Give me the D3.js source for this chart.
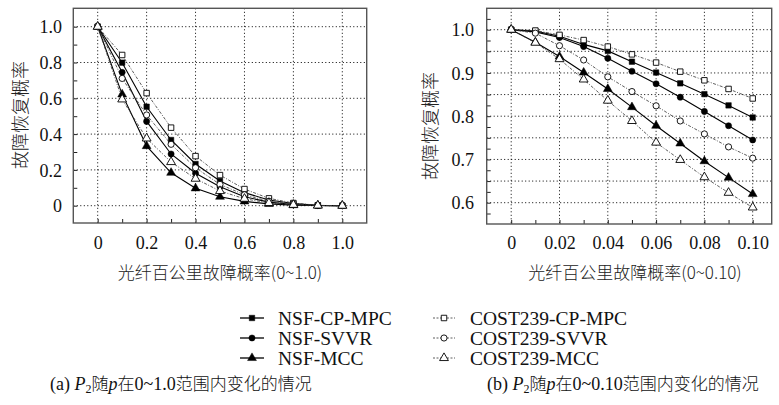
<!DOCTYPE html>
<html><head><meta charset="utf-8">
<script src="https://cdn.jsdelivr.net/npm/d3@7"></script>
<style>
body{margin:0;background:#fff;}
svg{display:block;}
</style></head>
<body>
<svg id="c" width="779" height="405"></svg>
<script>
// ---------- data ----------
const seriesNames = ["NSF-CP-MPC","NSF-SVVR","NSF-MCC","COST239-CP-MPC","COST239-SVVR","COST239-MCC"];
const seriesShape = ["square","circle","triangle","square","circle","triangle"];
const seriesOpen  = [false,false,false,true,true,true];

const xA = [0,0.1,0.2,0.3,0.4,0.5,0.6,0.7,0.8,0.9,1.0];
const aNSF_CP   = [1.0,0.799,0.553,0.367,0.233,0.138,0.073,0.032,0.012,0.002,0];
const aNSF_SV   = [1.0,0.745,0.471,0.289,0.181,0.106,0.050,0.020,0.007,0.001,0];
const aNSF_MCC  = [1.0,0.622,0.333,0.184,0.097,0.050,0.024,0.010,0.003,0.001,0];
const aCOST_CP  = [1.0,0.842,0.629,0.436,0.277,0.171,0.093,0.041,0.015,0.002,0];
const aCOST_SV  = [1.0,0.711,0.507,0.343,0.212,0.119,0.061,0.025,0.009,0.001,0];
const aCOST_MCC = [1.0,0.594,0.376,0.244,0.151,0.082,0.039,0.015,0.005,0.001,0];

const xB = [0,0.01,0.02,0.03,0.04,0.05,0.06,0.07,0.08,0.09,0.10];
const bNSF_CP   = [1.0,0.997,0.985,0.966,0.951,0.926,0.901,0.876,0.851,0.825,0.797];
const bNSF_SV   = [1.0,0.995,0.982,0.961,0.934,0.904,0.875,0.844,0.811,0.778,0.745];
const bNSF_MCC  = [1.0,0.971,0.938,0.901,0.863,0.821,0.778,0.737,0.696,0.658,0.620];
const bCOST_CP  = [1.0,0.998,0.988,0.976,0.961,0.943,0.924,0.903,0.883,0.863,0.841];
const bCOST_SV  = [1.0,0.992,0.963,0.930,0.891,0.857,0.824,0.789,0.759,0.729,0.703];
const bCOST_MCC = [1.0,0.970,0.932,0.885,0.836,0.789,0.739,0.699,0.659,0.623,0.589];

const xTicksA = [0,0.2,0.4,0.6,0.8,1.0];
const xTickLabelsA = ["0","0.2","0.4","0.6","0.8","1.0"];
const yTicksA = [0,0.2,0.4,0.6,0.8,1.0];
const yTickLabelsA = ["0","0.2","0.4","0.6","0.8","1.0"];
const xTicksB = [0,0.02,0.04,0.06,0.08,0.10];
const xTickLabelsB = ["0","0.02","0.04","0.06","0.08","0.10"];
const yTicksB = [0.6,0.7,0.8,0.9,1.0];
const yTickLabelsB = ["0.6","0.7","0.8","0.9","1.0"];
const yGridB = [0.6,0.65,0.7,0.75,0.8,0.85,0.9,0.95,1.0];

const yTitle = "故障恢复概率";
const xTitleA = "光纤百公里故障概率(0~1.0)";
const xTitleB = "光纤百公里故障概率(0~0.10)";

// ---------- layout ----------
const svg = d3.select("#c");
const SERIF = "'Liberation Serif','Times New Roman',serif";
const CJK = "'Noto Sans CJK SC','Noto Sans CJK JP',sans-serif";

function sym(shape){
  if(shape==="square") return d3.symbol(d3.symbolSquare, 30)();
  if(shape==="circle") return d3.symbol(d3.symbolCircle, 30)();
  return d3.symbol(d3.symbolTriangle, 34)();
}

function panel(cfg){
  const g = svg.append("g");
  const x = d3.scaleLinear().domain(cfg.xd).range(cfg.xr);
  const y = d3.scaleLinear().domain(cfg.yd).range(cfg.yr);
  const f = cfg.frame; // [x0,y0,x1,y1]
  // grid
  g.append("g").selectAll("line").data(cfg.xTicks).join("line")
    .attr("x1",d=>x(d)).attr("x2",d=>x(d)).attr("y1",f[1]).attr("y2",f[3])
    .attr("stroke","#000").attr("stroke-width",1).attr("stroke-dasharray","1,2.5");
  g.append("g").selectAll("line").data(cfg.yGrid).join("line")
    .attr("y1",d=>y(d)).attr("y2",d=>y(d)).attr("x1",f[0]).attr("x2",f[2])
    .attr("stroke","#000").attr("stroke-width",1).attr("stroke-dasharray","1,2.5");
  // minor ticks via axes (inward)
  const xAx = d3.axisTop(x).tickValues(cfg.xMinor).tickSize(4).tickFormat("");
  const xa = g.append("g").attr("transform",`translate(0,${f[3]})`).call(xAx);
  xa.select(".domain").remove();
  xa.selectAll("line").attr("stroke","#222");
  const yAx = d3.axisRight(y).tickValues(cfg.yMinor).tickSize(4).tickFormat("");
  const ya = g.append("g").attr("transform",`translate(${f[0]},0)`).call(yAx);
  ya.select(".domain").remove();
  ya.selectAll("line").attr("stroke","#222");
  // labels via axes
  const xl = g.append("g").attr("transform",`translate(0,${f[3]})`)
    .call(d3.axisBottom(x).tickValues(cfg.xTicks).tickSize(0).tickPadding(0)
      .tickFormat((d,i)=>cfg.xLabels[i]));
  xl.select(".domain").remove();
  xl.selectAll("text").attr("font-family",SERIF).attr("font-size",18).attr("fill","#111")
    .attr("dy",null).attr("y",cfg.xLabelY - f[3]);
  const yl = g.append("g").attr("transform",`translate(${cfg.yLabelX},0)`)
    .call(d3.axisLeft(y).tickValues(cfg.yTicks).tickSize(0).tickPadding(0)
      .tickFormat((d,i)=>cfg.yLabels[i]));
  yl.select(".domain").remove();
  yl.selectAll("text").attr("font-family",SERIF).attr("font-size",18).attr("fill","#111")
    .attr("dy","0.34em");
  // frame
  g.append("rect").attr("x",f[0]).attr("y",f[1]).attr("width",f[2]-f[0]).attr("height",f[3]-f[1])
    .attr("fill","none").attr("stroke","#555").attr("stroke-width",1.4);
  // series
  const line = d3.line().x(d=>x(d[0])).y(d=>y(d[1]));
  cfg.series.forEach((vals,i)=>{
    const pts = cfg.xs.map((xv,j)=>[xv,vals[j]]);
    const open = seriesOpen[i];
    g.append("path").attr("d",line(pts)).attr("fill","none")
      .attr("stroke", open? "#333":"#000")
      .attr("stroke-width", open?0.8:1.1)
      .attr("stroke-dasharray", open? "3,1.5,1,1.5":null);
  });
  cfg.series.forEach((vals,i)=>{
    const pts = cfg.xs.map((xv,j)=>[xv,vals[j]]);
    const open = seriesOpen[i];
    g.append("g").selectAll("path").data(pts).join("path")
      .attr("transform",d=>`translate(${x(d[0])},${y(d[1])})`)
      .attr("d",sym(seriesShape[i]))
      .attr("fill",open?"#fff":"#000").attr("stroke","#000").attr("stroke-width",open?0.9:0.5);
  });
  // titles
  g.append("text").attr("transform",`translate(${cfg.yTitleX},${cfg.yTitleY}) rotate(-90)`)
    .attr("text-anchor","middle").attr("dominant-baseline","central")
    .attr("font-family",CJK).attr("font-size",18).attr("fill","#222").attr("font-weight",300)
    .text(yTitle);
  g.append("text").attr("x",cfg.xTitleX).attr("y",cfg.xTitleY).attr("text-anchor","middle")
    .attr("font-family",CJK).attr("font-size",17).attr("fill","#222").attr("font-weight",300)
    .text(cfg.xTitle);
}

panel({
  xd:[0,1], xr:[97.7,342.3], yd:[0,1], yr:[205.7,26.7],
  frame:[73.3,8.3,366.7,223],
  xTicks:xTicksA, xLabels:xTickLabelsA, yTicks:yTicksA, yLabels:yTickLabelsA, yGrid:yTicksA,
  xMinor:[0,0.1,0.2,0.3,0.4,0.5,0.6,0.7,0.8,0.9,1.0],
  yMinor:[0,0.1,0.2,0.3,0.4,0.5,0.6,0.7,0.8,0.9,1.0],
  xLabelY:249, yLabelX:62,
  yTitleX:19, yTitleY:115, xTitleX:220, xTitleY:279, xTitle:xTitleA,
  xs:xA, series:[aNSF_CP,aNSF_SV,aNSF_MCC,aCOST_CP,aCOST_SV,aCOST_MCC]
});
panel({
  xd:[0,0.1], xr:[511.2,752.7], yd:[0.6,1.0], yr:[202.7,29.7],
  frame:[486.7,8.3,771.7,224],
  xTicks:xTicksB, xLabels:xTickLabelsB, yTicks:yTicksB, yLabels:yTickLabelsB, yGrid:yGridB,
  xMinor:[0,0.01,0.02,0.03,0.04,0.05,0.06,0.07,0.08,0.09,0.10],
  yMinor:[0.575,0.6,0.625,0.65,0.675,0.7,0.725,0.75,0.775,0.8,0.825,0.85,0.875,0.9,0.925,0.95,0.975,1.0,1.025],
  xLabelY:249, yLabelX:474,
  yTitleX:429, yTitleY:126, xTitleX:635, xTitleY:279, xTitle:xTitleB,
  xs:xB, series:[bNSF_CP,bNSF_SV,bNSF_MCC,bCOST_CP,bCOST_SV,bCOST_MCC]
});

// ---------- legend ----------
const leg = svg.append("g");
const legCols = [[240,278],[433,470]];
const legRows = [318,338,358];
seriesNames.forEach((name,i)=>{
  const c = legCols[Math.floor(i/3)], r = legRows[i%3];
  const open = seriesOpen[i];
  leg.append("line").attr("x1",c[0]).attr("x2",c[0]+(open?22:24)).attr("y1",r).attr("y2",r)
    .attr("stroke",open?"#333":"#000").attr("stroke-width",open?0.8:1.3)
    .attr("stroke-dasharray",open?"2,1.5":null);
  leg.append("path").attr("transform",`translate(${c[0]+(open?11:12)},${r})`)
    .attr("d",sym(seriesShape[i])).attr("fill",open?"#fff":"#000").attr("stroke","#000")
    .attr("stroke-width",open?0.9:0.5);
  leg.append("text").attr("x",c[1]).attr("y",r).attr("dy","0.34em")
    .attr("font-family",SERIF).attr("font-size",19.5).attr("fill","#111").text(name);
});

// ---------- captions ----------
function caption(x0, label, range){
  const t = svg.append("text").attr("x",x0).attr("y",390)
    .attr("font-size",18).attr("fill","#111").attr("font-family",SERIF);
  t.append("tspan").text(label+" ");
  t.append("tspan").attr("font-style","italic").text("P");
  t.append("tspan").attr("font-size",12).attr("dy",3).text("2");
  t.append("tspan").attr("dy",-3).attr("font-family",CJK).attr("font-weight",300).attr("font-size",17).text("随");
  t.append("tspan").attr("font-style","italic").text("p");
  t.append("tspan").attr("font-family",CJK).attr("font-weight",300).attr("font-size",17).text("在");
  t.append("tspan").text(range);
  t.append("tspan").attr("font-family",CJK).attr("font-weight",300).attr("font-size",17).text("范围内变化的情况");
}
caption(50,"(a)","0~1.0");
caption(487,"(b)","0~0.10");
</script>
</body></html>
